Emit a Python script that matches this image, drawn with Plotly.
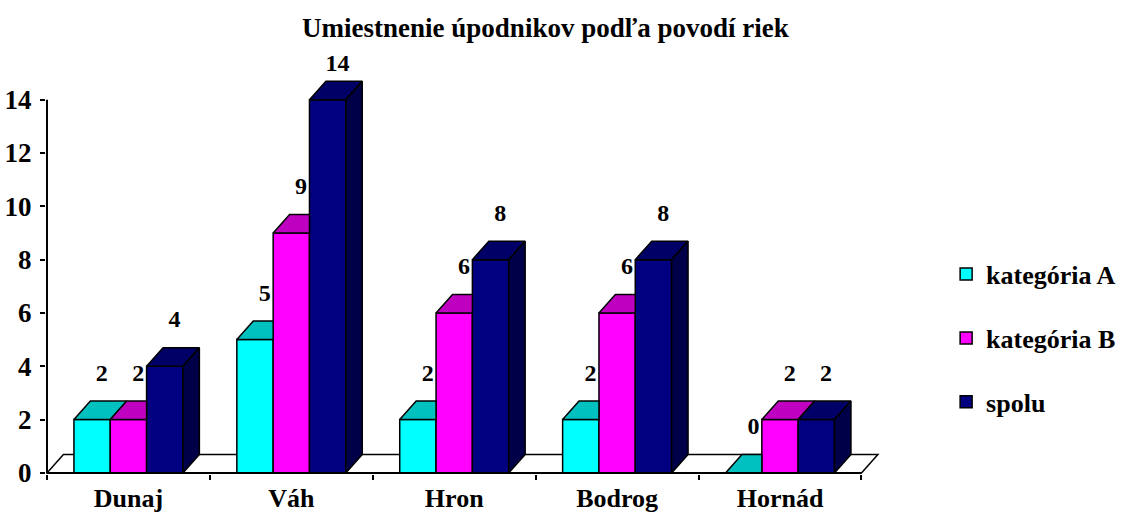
import plotly.graph_objects as go

# ---- data ----
categories = ["Dunaj", "Váh", "Hron", "Bodrog", "Hornád"]
series_names = ["kategória A", "kategória B", "spolu"]
kategoria_a = [2, 5, 2, 2, 0]
kategoria_b = [2, 9, 6, 6, 2]
spolu = [4, 14, 8, 8, 2]
y_ticks = [0, 2, 4, 6, 8, 10, 12, 14]
title_text = "Umiestnenie úpodnikov podľa povodí riek"

# ---- styles ----
front_colors = ["#00FFFF", "#FF00FF", "#000080"]
top_colors = ["#00C0C0", "#C000C0", "#000066"]
side_colors = ["#00A0A0", "#A000A0", "#000048"]
FONT = "Liberation Serif"
GROUP_W = 0.669          # width of a category's bar group (category units)
DX, DY = 0.101, 0.694    # pseudo-3D depth offset (x units, y units)
LBL_DX, LBL_DY = 0.06, 1.68
LBL_MAX = 15.3           # labels are kept inside the chart area

series = [kategoria_a, kategoria_b, spolu]
n_cat = len(categories)
n_ser = len(series)
bw = GROUP_W / n_ser
xs = list(range(n_cat))
xmin, xmax = -0.5, n_cat - 0.5

fig = go.Figure()

# front faces: real bars
for s, (name, vals) in enumerate(zip(series_names, series)):
    fig.add_trace(go.Bar(
        x=xs, y=vals, name=name, width=bw, offset=-GROUP_W / 2 + s * bw,
        marker=dict(color=front_colors[s], line=dict(color="black", width=1.5)),
        legendgroup=name, showlegend=True, hoverinfo="x+y+name",
    ))

# top and side faces built from the same values
for s, vals in enumerate(series):
    tx, ty, sx, sy = [], [], [], []
    for c, h in enumerate(vals):
        xl = c - GROUP_W / 2 + s * bw
        xr = xl + bw
        nxt = series[s + 1][c] if s + 1 < n_ser else None
        # top face (clipped where the next, taller bar's front hides it)
        if nxt is not None and nxt > h:
            hn = min(nxt, h + DY)
            px = [xl, xr, xr]
            py = [h, h, hn]
            if hn < h + DY:
                px += [xr + DX * (hn - h) / DY, xr + DX]
                py += [hn, h + DY]
            px += [xl + DX, xl]
            py += [h + DY, h]
        else:
            px = [xl, xr, xr + DX, xl + DX, xl]
            py = [h, h, h + DY, h + DY, h]
        tx += px + [None]
        ty += py + [None]
        # side face (visible only when nothing taller stands right of it)
        if nxt is None or nxt < h:
            base = 0 if nxt is None else nxt
            sx += [xr, xr, xr + DX, xr + DX, xr, None]
            sy += [base, h, h + DY, base + DY if nxt is None else base, base, None]
    fig.add_trace(go.Scatter(x=tx, y=ty, mode="lines", fill="toself",
                             fillcolor=top_colors[s], line=dict(color="black", width=1.5),
                             showlegend=False, hoverinfo="skip"))
    if sx:
        fig.add_trace(go.Scatter(x=sx, y=sy, mode="lines", fill="toself",
                                 fillcolor=side_colors[s], line=dict(color="black", width=1.5),
                                 showlegend=False, hoverinfo="skip"))

# data labels
for s, vals in enumerate(series):
    lx = [c - GROUP_W / 2 + (s + 0.5) * bw + LBL_DX for c in xs]
    ly = [min(v + LBL_DY, LBL_MAX) for v in vals]
    fig.add_trace(go.Scatter(x=lx, y=ly, mode="text", text=[str(v) for v in vals],
                             textposition="middle center", cliponaxis=False,
                             textfont=dict(family=FONT, size=24, color="black", weight="bold"),
                             showlegend=False, hoverinfo="skip"))

# axis lines
fig.add_trace(go.Scatter(x=[xmin, xmin], y=[0, max(y_ticks)], mode="lines",
                         line=dict(color="black", width=2), showlegend=False, hoverinfo="skip"))
fig.add_trace(go.Scatter(x=[xmin, xmax], y=[0, 0], mode="lines",
                         line=dict(color="black", width=2), showlegend=False, hoverinfo="skip"))

# floor
fig.add_shape(type="path", xref="x", yref="y", layer="below",
              path=f"M {xmin},0 L {xmin + DX},{DY} L {xmax + DX},{DY} L {xmax},0 Z",
              fillcolor="white", line=dict(color="black", width=1.5))

# pixel geometry: 162.9 px per category, 26.64 px per unit
Y_TOP = 16.2
plot_h = (Y_TOP + 0.04) * 26.64
fig.update_layout(
    width=1121, height=514,
    margin=dict(l=46, r=240, t=round(514 - 40 - plot_h), b=40, autoexpand=False),
    paper_bgcolor="white", plot_bgcolor="white",
    barmode="overlay",
    font=dict(family=FONT, color="black"),
    title=dict(text=title_text, x=0.4866, xref="container", xanchor="center",
               y=0.947, yref="container", yanchor="middle", automargin=False,
               font=dict(family=FONT, size=27, weight="bold", color="black")),
    xaxis=dict(range=[-0.506, 4.62], tickvals=xs, ticktext=categories, automargin=False,
               ticks="", showgrid=False, zeroline=False, showline=False,
               tickfont=dict(family=FONT, size=26, weight="bold", color="black"),
               ticklabelstandoff=6,
               minor=dict(tickvals=[c - 0.5 for c in range(n_cat + 1)], ticks="outside",
                          ticklen=5, tickwidth=2, tickcolor="black", showgrid=False)),
    yaxis=dict(range=[-0.04, Y_TOP], tickvals=y_ticks, ticks="outside", ticklen=5,
               tickwidth=2, tickcolor="black", showgrid=False, zeroline=False,
               showline=False, automargin=False, ticklabelstandoff=3,
               tickfont=dict(family=FONT, size=27, weight="bold", color="black")),
    legend=dict(x=0.844, xref="container", xanchor="left", y=0.342, yref="container",
                yanchor="middle", bgcolor="rgba(0,0,0,0)", tracegroupgap=27,
                font=dict(family=FONT, size=26, weight="bold", color="black")),
    showlegend=True,
)

fig.write_html("out.html", config={"displayModeBar": False},
               post_script="document.body.style.margin='0';document.body.style.overflow='hidden';")
